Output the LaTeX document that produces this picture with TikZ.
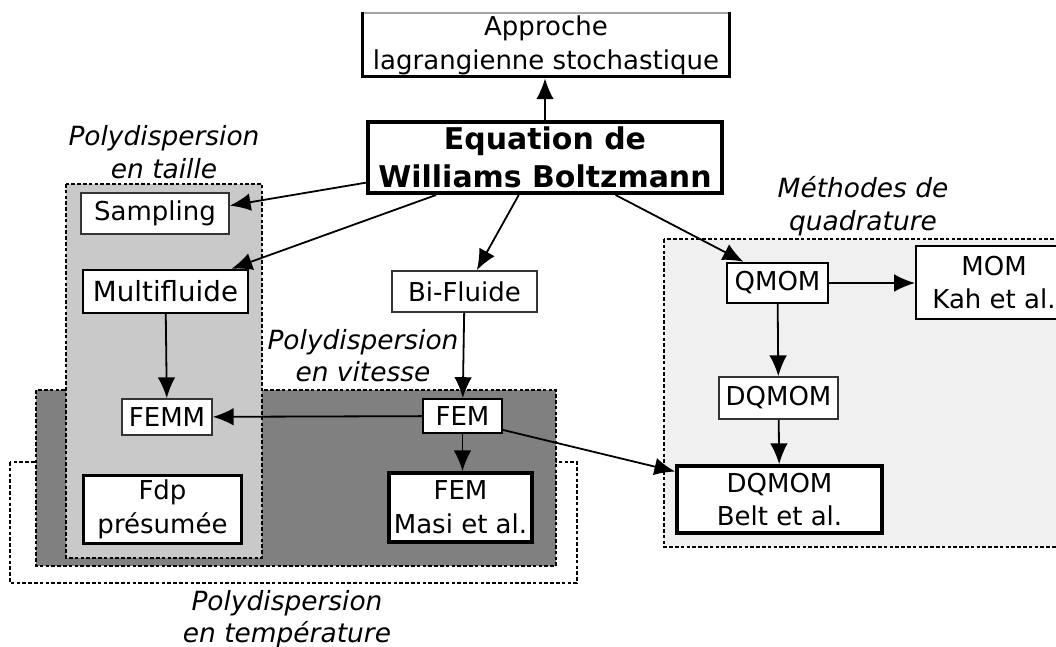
\documentclass[tikz,border=0pt]{standalone}
\usepackage{fontspec}
\setmainfont{DejaVu Sans}
\usetikzlibrary{shapes,arrows.meta,positioning}
\tikzset{boite/.style={rectangle, draw=black!80, fill=white, line width=0.4mm, inner sep=0pt, align=center,
 font=\fontsize{18.5}{24}\selectfont}}
\tikzset{boite2/.style={boite, draw=black, line width=0.6mm}}
\tikzset{boite3/.style={boite, draw=black, line width=0.9mm}}
\tikzset{zone/.style={draw=black, dash pattern=on 0.9mm off 0.55mm, line width=0.35mm}}
\tikzset{titre/.style={align=center, font=\fontsize{18.8}{23}\selectfont\itshape}}
\tikzset{line/.style={draw, line width=0.45mm, -{Latex[length=5.2mm,width=4.4mm]}}}

\begin{document}
\begin{tikzpicture}[x=0.25mm, y=-0.25mm]
        \useasboundingbox (0,0) rectangle (1056,647);
        % zones de polydispersion
        \path[zone, fill=white]    (10,462) rectangle (577,583);
        \path[zone, fill=black!50] (36,390) rectangle (556,566);
        \path[zone, fill=black!21] (66,184) rectangle (262,558);
        \path[zone, fill=black!6]  (664,239) rectangle (1070,547);

        \node[titre] (taille) at (164,152) {Polydispersion\\en taille};
        \node[titre] (vitesse) at (363,355.5) {Polydispersion\\en vitesse};
        \node[titre] (temp) at (287,619) {Polydispersion\\en temp\'erature};
        \node[titre] (quad) at (863,206) {M\'ethodes de\\quadrature};

        \node[boite, draw=black!35, line width=0.7mm, minimum width=92mm, minimum height=16mm] (approche) at (546,45)
              {Approche\\lagrangienne stochastique};
        \draw[line width=0.7mm] ([xshift=0.5mm]approche.north west) -- ([xshift=0.5mm,yshift=0.5mm]approche.south west)
              -- ([xshift=-0.5mm,yshift=0.5mm]approche.south east) -- ([xshift=-0.5mm]approche.north east);
        \node[boite3, line width=1mm, minimum width=88.5mm, minimum height=17.75mm,
              font=\fontsize{21.3}{27}\selectfont\bfseries] (eq) at (545,157.5) {Equation de\\Williams Boltzmann};

        \node[boite, minimum width=37mm, minimum height=10.25mm] (sampling) at (155,213.5) {Sampling};
        \node[boite2, minimum width=41.25mm, minimum height=10.75mm,
              font=\fontsize{19.7}{24}\selectfont] (multi) at (165.5,291.5) {Multifluide};
        \node[boite, minimum width=22.5mm, minimum height=9mm] (femm) at (167,417) {FEMM};
        \node[boite2, line width=0.75mm, minimum width=39.25mm, minimum height=17mm] (fdp) at (162.5,509) {Fdp\\pr\'esum\'ee};
        \node[boite, minimum width=36.25mm, minimum height=10.25mm] (bifluide) at (464.5,291.5) {Bi-Fluide};
        \node[boite2, line width=0.5mm, minimum width=19.75mm, minimum height=8.5mm] (fem) at (462.5,416) {FEM};
        \node[boite3, minimum width=35.75mm, minimum height=17.25mm] (masi) at (460.5,507.5) {FEM\\Masi et al.};
        \node[boite2, minimum width=25.25mm, minimum height=10mm] (qmom) at (777.5,283) {QMOM};
        \node[boite2, line width=0.5mm, minimum width=39mm, minimum height=18.25mm] (mom) at (994,282.5) {MOM\\Kah et al.};
        \node[boite, minimum width=29.75mm, minimum height=10.5mm] (dqmom) at (778.5,398) {DQMOM};
        \node[boite3, minimum width=51.25mm, minimum height=16.75mm] (belt) at (779.5,499.5) {DQMOM\\Belt et al.};

        \path[line] (eq.north) --          (eq.north |- approche.south);
        \path[line] (eq.188) --            (sampling.6);
        \path[line] (eq.199) --            (multi.19);
        \path[line] (eq.235) --            (bifluide.60);
        \path[line] (eq.332) --            (qmom.148);
        \path[line] (qmom) --              (mom.west |- qmom);
        \path[line] (qmom) --              (dqmom);
        \path[line] (dqmom) --             (belt);
        \path[line] (multi) --             (femm);
        \path[line] (bifluide) --          (fem);
        \path[line] (fem) --               (femm);
        \path[line] (fem.south) --         (fem.south |- masi.north);
        \path[line] (fem.-19) --           (belt.165);
      \end{tikzpicture}
\end{document}
